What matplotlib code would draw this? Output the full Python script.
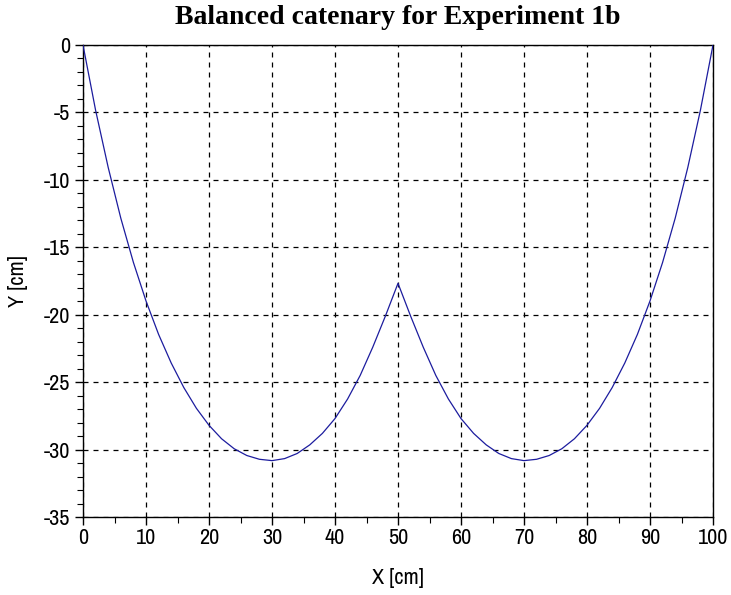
import matplotlib
matplotlib.use("Agg")
import matplotlib.pyplot as plt
from matplotlib.ticker import MultipleLocator
from matplotlib import font_manager

plt.rcParams['axes.unicode_minus'] = False

# Data (x in cm, y in cm)
x_cm = list(range(0, 101, 2))
y_cm = [0.0, -4.84, -9.08, -12.84, -16.12, -18.98, -21.46, -23.58, -25.40, -26.94,
        -28.20, -29.20, -29.94, -30.44, -30.72, -30.82, -30.67, -30.29, -29.65, -28.80,
        -27.70, -26.25, -24.50, -22.40, -20.10, -17.67,
        -20.10, -22.40, -24.50, -26.25, -27.70, -28.80, -29.65, -30.29, -30.67, -30.82,
        -30.72, -30.44, -29.94, -29.20, -28.20, -26.94, -25.40, -23.58, -21.46, -18.98,
        -16.12, -12.84, -9.08, -4.84, 0.0]

x_ticks = [0, 10, 20, 30, 40, 50, 60, 70, 80, 90, 100]
y_ticks = [0, -5, -10, -15, -20, -25, -30, -35]

title = "Balanced catenary for Experiment 1b"
xlabel = "X [cm]"
ylabel = "Y [cm]"

# look for a condensed sans font if one is installed
cond = None
for f in font_manager.fontManager.ttflist:
    n = f.name
    if ('Narrow' in n or 'Condensed' in n) and 'Mono' not in n and 'Serif' not in n:
        cond = n
        break
if cond is None:
    for f in font_manager.fontManager.ttflist:
        if f.name in ('DejaVu Sans', 'Liberation Sans') and f.stretch in ('condensed', 'semi-condensed', 'extra-condensed'):
            cond = f.name
            break
sans = [cond] if cond else []
sans += ['Liberation Sans', 'DejaVu Sans']

fig = plt.figure(figsize=(7.31, 5.95), dpi=100)
ax = fig.add_axes([83/731, 1-517/595, (713-83)/731, (517-45)/595])

ax.plot(x_cm, y_cm, color='#1c1c9e', linewidth=0.9, zorder=3)

ax.set_xlim(0, 100)
ax.set_ylim(-35, 0)
ax.set_xticks(x_ticks)
ax.set_yticks(y_ticks)
ax.xaxis.set_minor_locator(MultipleLocator(5))
ax.yaxis.set_minor_locator(MultipleLocator(1))

ax.grid(True, which='major', color='black', linestyle=(0, (4, 4)), linewidth=0.9)
ax.tick_params(which='major', direction='out', length=6, width=1, colors='black',
               labelsize=16, top=False, right=False)
ax.tick_params(axis='x', which='major', pad=2)
ax.tick_params(axis='y', which='major', pad=3)
ax.tick_params(which='minor', direction='out', length=4, width=0.8, top=False, right=False)
for lab in ax.get_xticklabels() + ax.get_yticklabels():
    lab.set_family(sans)
    lab.set_stretch('condensed')

for s in ax.spines.values():
    s.set_linewidth(1.0)
    s.set_color('black')

fig.text(398/731, 1-18/595, title, ha='center', va='center',
         fontsize=20, fontweight='bold', family=['Liberation Serif', 'DejaVu Serif'])
fig.text(398/731, 1-578/595, xlabel, ha='center', va='center', fontsize=16,
         family=sans, stretch='condensed')
fig.text(18/731, 1-281/595, ylabel, ha='center', va='center', fontsize=16,
         rotation=90, family=sans, stretch='condensed')

fig.savefig("out.png", dpi=100)
